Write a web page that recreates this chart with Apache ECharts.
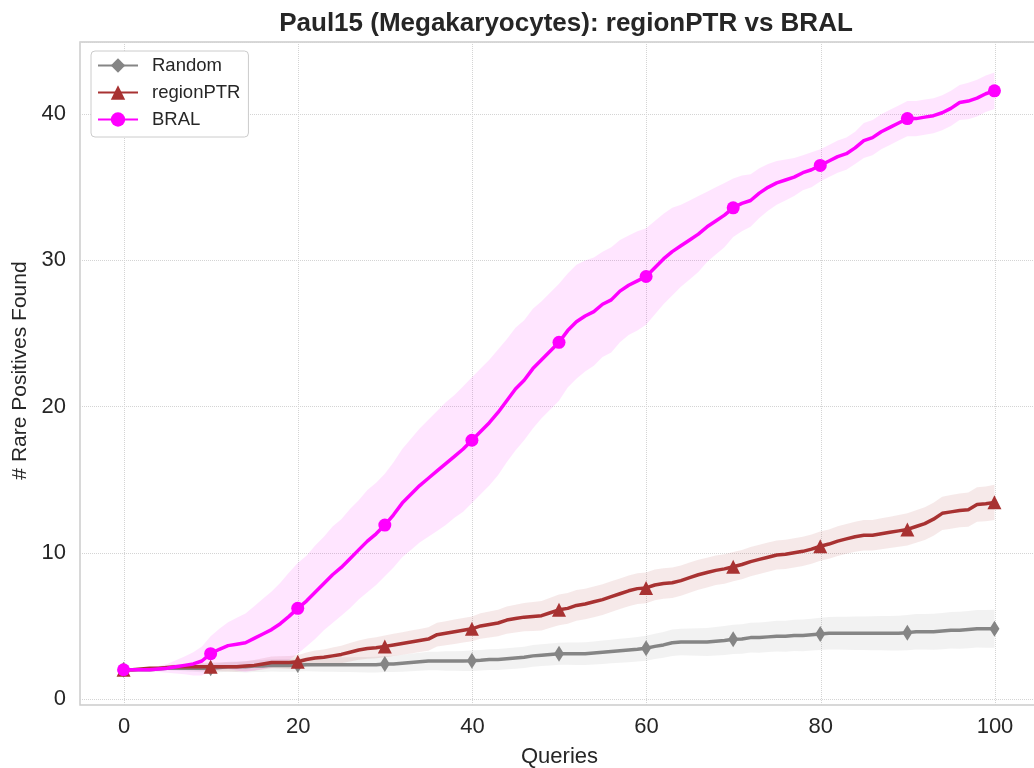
<!DOCTYPE html>
<html>
<head>
<meta charset="utf-8">
<title>Paul15 (Megakaryocytes): regionPTR vs BRAL</title>
<script src="https://cdn.jsdelivr.net/npm/echarts@6.0.0/dist/echarts.min.js"></script>
<style>
  html, body { margin: 0; padding: 0; background: #fff; }
  #chart { width: 1034px; height: 768px; }
</style>
</head>
<body>
<div id="chart"></div>
<script>
// queries 0..100
const queries = [];
for (let i = 0; i <= 100; i++) queries.push(i);

const xTicks = [0, 20, 40, 60, 80, 100];
const yTicks = [0, 10, 20, 30, 40];

// mean curves
const randomMean = [
  2.0, 2.0, 2.0, 2.0, 2.05, 2.1, 2.1, 2.1, 2.1, 2.1, 2.1,
  2.15, 2.2, 2.2, 2.2, 2.25, 2.25, 2.3, 2.3, 2.3, 2.33,
  2.35, 2.35, 2.35, 2.35, 2.35, 2.35, 2.35, 2.35, 2.35, 2.4,
  2.4, 2.45, 2.5, 2.55, 2.6, 2.6, 2.6, 2.6, 2.6, 2.62,
  2.65, 2.7, 2.7, 2.75, 2.8, 2.85, 2.95, 3.0, 3.05, 3.1,
  3.1, 3.1, 3.1, 3.15, 3.2, 3.25, 3.3, 3.35, 3.4, 3.47,
  3.6, 3.7, 3.85, 3.9, 3.9, 3.9, 3.9, 3.95, 4.0, 4.08,
  4.1, 4.2, 4.2, 4.25, 4.3, 4.3, 4.35, 4.35, 4.4, 4.45,
  4.5, 4.5, 4.5, 4.5, 4.5, 4.5, 4.5, 4.5, 4.5, 4.54,
  4.6, 4.6, 4.6, 4.65, 4.7, 4.7, 4.75, 4.8, 4.8, 4.8
];
const ptrMean = [
  2.0, 2.0, 2.05, 2.1, 2.1, 2.15, 2.2, 2.2, 2.2, 2.2, 2.2,
  2.2, 2.2, 2.2, 2.25, 2.3, 2.4, 2.5, 2.5, 2.5, 2.55,
  2.7, 2.8, 2.85, 2.95, 3.05, 3.2, 3.35, 3.45, 3.5, 3.6,
  3.7, 3.8, 3.9, 4.0, 4.1, 4.4, 4.5, 4.6, 4.7, 4.8,
  5.0, 5.1, 5.2, 5.4, 5.5, 5.6, 5.65, 5.7, 5.9, 6.1,
  6.2, 6.4, 6.5, 6.65, 6.8, 7.0, 7.2, 7.4, 7.55, 7.6,
  7.8, 7.9, 7.95, 8.1, 8.3, 8.5, 8.65, 8.8, 8.9, 9.05,
  9.2, 9.4, 9.55, 9.7, 9.85, 9.9, 10.0, 10.1, 10.25, 10.45,
  10.6, 10.8, 10.95, 11.1, 11.2, 11.2, 11.3, 11.4, 11.5, 11.6,
  11.8, 12.0, 12.3, 12.7, 12.8, 12.9, 12.95, 13.3, 13.35, 13.45
];
const bralMean = [
  2.0, 2.0, 2.0, 2.0, 2.05, 2.1, 2.2, 2.3, 2.4, 2.6, 3.1,
  3.4, 3.65, 3.75, 3.85, 4.15, 4.45, 4.75, 5.15, 5.65, 6.2,
  6.7, 7.3, 7.9, 8.5, 9.0, 9.6, 10.2, 10.8, 11.3, 11.9,
  12.6, 13.4, 14.0, 14.6, 15.1, 15.6, 16.1, 16.6, 17.1, 17.7,
  18.3, 18.9, 19.6, 20.4, 21.2, 21.8, 22.6, 23.2, 23.8, 24.4,
  25.2, 25.8, 26.2, 26.5, 27.0, 27.3, 27.9, 28.3, 28.6, 28.9,
  29.5, 30.1, 30.6, 31.0, 31.4, 31.8, 32.3, 32.7, 33.1, 33.6,
  33.9, 34.1, 34.6, 35.0, 35.3, 35.5, 35.7, 36.0, 36.2, 36.5,
  36.8, 37.1, 37.3, 37.7, 38.2, 38.4, 38.8, 39.1, 39.4, 39.7,
  39.7, 39.8, 39.9, 40.1, 40.4, 40.8, 40.9, 41.1, 41.4, 41.6
];

// half width of the shaded bands
const randomSd = [
  0, 0.03, 0.05, 0.08, 0.1, 0.13, 0.16, 0.2, 0.23, 0.27, 0.3,
  0.32, 0.34, 0.36, 0.38, 0.4, 0.41, 0.42, 0.43, 0.44, 0.45,
  0.46, 0.47, 0.48, 0.49, 0.5, 0.51, 0.52, 0.53, 0.54, 0.55,
  0.56, 0.58, 0.6, 0.62, 0.63, 0.64, 0.66, 0.67, 0.68, 0.7,
  0.7, 0.71, 0.72, 0.72, 0.73, 0.73, 0.74, 0.74, 0.75, 0.75,
  0.76, 0.77, 0.78, 0.79, 0.8, 0.81, 0.82, 0.83, 0.84, 0.85,
  0.87, 0.88, 0.9, 0.91, 0.93, 0.94, 0.96, 0.97, 0.99, 1.0,
  1.01, 1.02, 1.03, 1.04, 1.05, 1.06, 1.07, 1.08, 1.09, 1.1,
  1.11, 1.12, 1.13, 1.14, 1.15, 1.16, 1.17, 1.18, 1.19, 1.2,
  1.21, 1.22, 1.23, 1.24, 1.25, 1.26, 1.27, 1.28, 1.29, 1.3
];
const ptrSd = [
  0, 0.03, 0.06, 0.09, 0.12, 0.15, 0.18, 0.21, 0.24, 0.27, 0.3,
  0.31, 0.32, 0.33, 0.34, 0.36, 0.38, 0.4, 0.42, 0.44, 0.45,
  0.48, 0.51, 0.54, 0.57, 0.6, 0.63, 0.66, 0.69, 0.72, 0.75,
  0.76, 0.77, 0.78, 0.79, 0.8, 0.81, 0.82, 0.83, 0.84, 0.85,
  0.87, 0.89, 0.91, 0.93, 0.95, 0.97, 0.99, 1.01, 1.03, 1.05,
  1.05, 1.05, 1.05, 1.05, 1.05, 1.05, 1.05, 1.05, 1.05, 1.05,
  1.05, 1.04, 1.04, 1.03, 1.03, 1.02, 1.02, 1.01, 1.01, 1.0,
  1.0, 1.0, 1.0, 1.0, 1.0, 1.0, 1.0, 1.0, 1.0, 1.0,
  1.0, 1.01, 1.02, 1.03, 1.04, 1.05, 1.06, 1.07, 1.08, 1.1,
  1.11, 1.12, 1.13, 1.14, 1.15, 1.16, 1.17, 1.18, 1.19, 1.2
];
const bralSd = [
  0, 0.05, 0.1, 0.15, 0.2, 0.3, 0.45, 0.6, 0.8, 1.0, 1.2,
  1.4, 1.6, 1.8, 2.0, 2.2, 2.4, 2.6, 2.8, 3.0, 3.1,
  3.1, 3.2, 3.2, 3.3, 3.3, 3.4, 3.4, 3.5, 3.5, 3.5,
  3.6, 3.7, 3.8, 3.9, 4.0, 4.1, 4.2, 4.2, 4.3, 4.3,
  4.3, 4.3, 4.3, 4.2, 4.2, 4.1, 4.1, 4.0, 4.0, 4.0,
  3.9, 3.9, 3.8, 3.7, 3.6, 3.6, 3.5, 3.4, 3.4, 3.3,
  3.2, 3.1, 3.0, 2.8, 2.7, 2.6, 2.4, 2.3, 2.2, 2.0,
  1.9, 1.8, 1.7, 1.6, 1.5, 1.4, 1.3, 1.2, 1.2, 1.1,
  1.1, 1.1, 1.1, 1.1, 1.2, 1.2, 1.2, 1.2, 1.2, 1.2,
  1.2, 1.2, 1.2, 1.2, 1.2, 1.2, 1.25, 1.25, 1.25, 1.25
];

const methods = [
  { name: 'Random', mean: randomMean, sd: randomSd, color: '#858585', band: 'rgba(128,128,128,0.1)', symbol: 'diamond', size: [10, 16] },
  { name: 'regionPTR', mean: ptrMean, sd: ptrSd, color: '#a83232', band: 'rgba(165,42,42,0.1)', symbol: 'triangle', size: 14 },
  { name: 'BRAL', mean: bralMean, sd: bralSd, color: '#ff00ff', band: 'rgba(255,0,255,0.1)', symbol: 'circle', size: 13 }
];

const chart = echarts.init(document.getElementById('chart'));

const series = [];
methods.forEach(m => {
  // shaded band (mean +/- sd) as one polygon, drawn once from the first item
  const bandData = queries.map((q, i) => [q, m.mean[i] - m.sd[i], m.mean[i] + m.sd[i]]);
  series.push({
    type: 'custom',
    name: m.name + ' band',
    data: bandData,
    encode: { x: 0, y: [1, 2] },
    silent: true,
    z: 1,
    renderItem: (params, api) => {
      if (params.dataIndex !== 0) return;
      const upper = bandData.map(d => api.coord([d[0], d[2]]));
      const lower = bandData.map(d => api.coord([d[0], d[1]])).reverse();
      return {
        type: 'polygon',
        shape: { points: upper.concat(lower) },
        style: { fill: m.band, stroke: 'none' }
      };
    }
  });
});
methods.forEach((m, k) => {
  series.push({
    type: 'line',
    name: m.name,
    data: queries.map((q, i) => [q, m.mean[i]]),
    color: m.color,
    lineStyle: { width: 3.5, color: m.color },
    itemStyle: { color: m.color },
    symbol: m.symbol,
    showSymbol: true,
    showAllSymbol: true,
    symbolSize: (val, p) => (p.dataIndex % 10 === 0 ? m.size : 0),
    z: 3 + k
  });
});

const font = 'Liberation Sans, Arial, sans-serif';
const labelStyle = { fontFamily: font, fontSize: 22, color: '#262626' };
const dotted = { show: true, lineStyle: { type: 'dotted', color: '#d4d4d4', width: 1 } };

const option = {
  backgroundColor: '#fff',
  animation: false,
  title: {
    text: 'Paul15 (Megakaryocytes): regionPTR vs BRAL',
    left: 561,
    top: 6,
    textAlign: 'center',
    textStyle: { fontFamily: font, fontSize: 26, fontWeight: 'bold', color: '#262626' }
  },
  legend: {
    data: methods.map(m => m.name),
    orient: 'vertical',
    left: 91,
    top: 51,
    itemWidth: 40,
    itemHeight: 18,
    itemGap: 8,
    padding: [5, 8, 8, 6],
    backgroundColor: '#fff',
    borderColor: '#cccccc',
    borderWidth: 1,
    borderRadius: 4,
    textStyle: { fontFamily: font, fontSize: 18.5, color: '#262626', padding: [0, 0, 0, 9] }
  },
  grid: [
    // frame, data drawn here (runs past the right edge like the original)
    { left: 80, top: 42, width: 958, height: 663, outerBoundsMode: 'none', show: true, borderColor: '#cccccc', borderWidth: 1.5, backgroundColor: 'transparent' },
    // x ticks
    { left: 124, top: 42, width: 871, height: 663, outerBoundsMode: 'none' },
    // y ticks
    { left: 80, top: 42, width: 958, height: 657, outerBoundsMode: 'none' }
  ],
  xAxis: [
    { gridIndex: 0, type: 'value', min: -5, max: 105, show: false },
    {
      gridIndex: 1, type: 'value', min: xTicks[0], max: xTicks[xTicks.length - 1], interval: 20,
      axisLine: { show: false }, axisTick: { show: false },
      axisLabel: Object.assign({ margin: 11 }, labelStyle),
      splitLine: dotted,
      name: 'Queries', nameLocation: 'middle', nameGap: 41,
      nameTextStyle: { fontFamily: font, fontSize: 22, color: '#262626' }
    },
    { gridIndex: 2, type: 'value', min: 0, max: 1, show: false }
  ],
  yAxis: [
    { gridIndex: 0, type: 'value', min: -0.41, max: 44.94, show: false },
    { gridIndex: 1, type: 'value', min: 0, max: 1, show: false },
    {
      gridIndex: 2, type: 'value', min: yTicks[0], max: 44.94, interval: 10,
      axisLine: { show: false }, axisTick: { show: false },
      axisLabel: Object.assign({ margin: 14, showMaxLabel: false }, labelStyle),
      splitLine: dotted,
      name: '# Rare Positives Found', nameLocation: 'middle', nameGap: 46, nameRotate: 90,
      nameTextStyle: { fontFamily: font, fontSize: 21, color: '#262626' }
    }
  ],
  series: series.map(s => Object.assign({ xAxisIndex: 0, yAxisIndex: 0 }, s))
};

chart.setOption(option);
</script>
</body>
</html>
